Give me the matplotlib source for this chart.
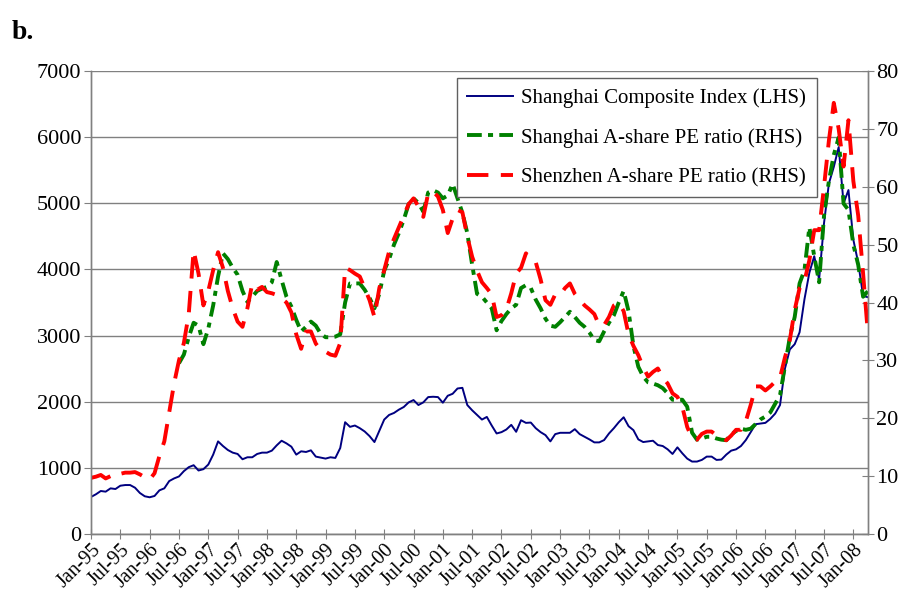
import numpy as np
import matplotlib
matplotlib.use("Agg")
import matplotlib.pyplot as plt

# ── Datos mensuales: Jan-95 ... Apr-08 (índice de mes 0..159) ────────────────
sci = [
    560, 600, 650, 640, 690, 680, 730, 740, 740, 700,
    620, 570, 555, 575, 660, 690, 800, 840, 870, 950,
    1010, 1040, 960, 980, 1050, 1200, 1400, 1330, 1270, 1230,
    1210, 1130, 1160, 1160, 1210, 1230, 1230, 1260, 1340, 1410,
    1370, 1320, 1200, 1250, 1240, 1265, 1170, 1155, 1140, 1160,
    1150, 1300, 1690, 1620, 1640, 1600, 1550, 1480, 1390, 1560,
    1730, 1800, 1830, 1880, 1920, 1990, 2025, 1950, 1990, 2070,
    2075, 2070, 1985, 2090, 2120, 2200, 2210, 1950, 1870, 1800,
    1730, 1770, 1640, 1520, 1540, 1580, 1650, 1545, 1720, 1680,
    1685, 1600, 1540, 1495, 1400, 1510, 1530, 1530, 1530, 1585,
    1510, 1470, 1430, 1385, 1385, 1420, 1520, 1600, 1690, 1765,
    1630, 1570, 1430, 1390, 1400, 1410, 1345, 1330, 1280, 1210,
    1310, 1220, 1140, 1095, 1095, 1120, 1170, 1170, 1120, 1125,
    1200, 1260, 1280, 1330, 1420, 1540, 1660, 1670, 1680, 1740,
    1820, 1950, 2500, 2790, 2870, 3050, 3550, 3950, 4200, 3850,
    4700, 5300, 5550, 5850, 5000, 5200, 4450, 4100, 3600, 3580,
]

nan = np.nan
sh_pe = [nan] * 18 + [
    29.5, 31.0, 34.0, 36.5, 36.0, 32.8, 35.5, 39.5, 44.5, 48.5,
    47.5, 46.0, 44.8, 42.0, 40.1, 41.0, 42.0, 42.4, 42.7, 43.5,
    47.0, 43.9, 41.0, 39.3, 37.0, 35.0, 35.8, 36.7, 36.0, 34.6,
    34.0, 34.0, 34.1, 34.5, 40.0, 43.3, 43.3, 43.3, 42.2, 40.8,
    39.0, 41.5, 45.5, 47.5, 50.0, 52.0, 54.3, 57.0, 58.0, 57.2,
    55.7, 59.0, 59.4, 59.0, 58.0, 58.5, 60.5, 58.0, 55.5, 52.0,
    46.5, 41.5, 41.0, 40.0, 39.0, 35.2, 36.8, 38.0, 39.0, 39.6,
    42.5, 43.0, 42.5, 40.5, 39.0, 37.2, 36.0, 35.8, 36.6, 37.5,
    38.4, 37.5, 36.5, 35.8, 34.8, 33.5, 33.3, 35.0, 36.5, 37.8,
    40.0, 42.0, 38.5, 32.5, 28.9, 27.2, 26.2, 26.0, 25.7, 25.2,
    24.3, 23.2, 23.2, 23.2, 22.0, 17.5, 16.3, 16.5, 16.8, 16.8,
    16.5, 16.3, 16.2, 17.2, 17.8, 18.2, 18.0, 18.2, 19.0, 19.8,
    20.3, 21.0, 22.5, 24.0, 29.0, 34.0, 37.5, 43.3, 45.6, 53.0,
    48.0, 43.5, 55.0, 61.0, 65.5, 68.5, 57.1, 56.0, 50.0, 46.5,
    41.0, 42.0,
]

sz_pe = [
    9.7, 9.9, 10.2, 9.6, 10.0, 9.8, 10.4, 10.6, 10.6, 10.7,
    10.3, 9.8, 9.4, 10.5, 13.5, 16.0, 21.0, 26.0, 30.0, 33.0,
    38.0, 49.0, 45.0, 39.5, 42.0, 45.6, 48.7, 46.0, 42.0, 39.0,
    36.7, 35.8, 39.0, 43.3, 42.2, 42.7, 41.8, 41.6, 41.3, 40.7,
    40.0, 38.3, 34.5, 32.0, 35.0, 35.0, 32.9, 31.8, 31.5, 31.0,
    30.8, 33.0, 46.0, 45.6, 45.0, 44.5, 42.5, 40.4, 37.5, 42.5,
    45.6, 48.8, 51.0, 53.0, 55.0, 57.0, 58.0, 56.6, 54.8, 58.9,
    59.2, 58.3, 56.0, 52.0, 54.5, 56.0, 55.6, 51.4, 47.9, 45.5,
    43.5, 42.5, 41.4, 37.5, 37.8, 38.8, 41.6, 45.0, 46.0, 48.5,
    47.6, 47.0, 44.0, 40.4, 39.6, 41.4, 41.3, 42.5, 43.3, 41.5,
    40.5, 39.5, 38.8, 38.0, 36.0, 36.1, 37.5, 39.5, 40.0, 38.5,
    34.5, 32.5, 30.9, 28.8, 27.2, 28.0, 28.6, 27.0, 26.0, 24.3,
    23.7, 22.0, 18.5, 16.5, 16.3, 17.3, 17.7, 17.7, 17.0, 16.6,
    16.2, 17.0, 18.0, 18.0, 19.5, 22.3, 25.5, 25.5, 24.8, 25.5,
    26.3, 27.0, 30.5, 33.5, 38.7, 42.5, 43.7, 47.3, 52.5, 52.5,
    60.0, 68.0, 74.5, 70.0, 63.5, 71.5, 61.0, 55.0, 45.0, 34.4,
]

tick_labels = [f"{m}-{y:02d}" for y in list(range(95, 100)) + list(range(0, 9))
               for m in ("Jan", "Jul")][:27]
left_ticks = [0, 1000, 2000, 3000, 4000, 5000, 6000, 7000]
right_ticks = [0, 10, 20, 30, 40, 50, 60, 70, 80]

plt.rcParams["font.family"] = ["Liberation Serif", "DejaVu Serif"]

# ── Figura ────────────────────────────────────────────────────────────────────
fig = plt.figure(figsize=(9.02, 5.92), dpi=100)
ax = fig.add_axes([0.1009, 0.098, 0.8614, 0.782])
ax2 = ax.twinx()

months = np.arange(len(sci))
ln1, = ax.plot(months, sci, color="#000080", lw=1.4, label="Shanghai Composite Index (LHS)")
ln2, = ax2.plot(np.arange(len(sh_pe)), sh_pe, color="#008000", lw=2.8,
                dashes=(3.8, 1.6, 1.3, 1.6), label="Shanghai A-share PE ratio (RHS)")
ln3, = ax2.plot(np.arange(len(sz_pe)), sz_pe, color="#ff0000", lw=2.8,
                dashes=(5.5, 3.2), label="Shenzhen A-share PE ratio (RHS)")

ax.set_xlim(0, 159)
ax.set_ylim(0, 7000)
ax2.set_ylim(0, 80)
ax.set_yticks(left_ticks)
ax2.set_yticks(right_ticks)
ax.set_xticks(np.arange(0, 157, 6))
ax.set_xticklabels(tick_labels, rotation=45, ha="right", rotation_mode="anchor")

ax.yaxis.grid(True, color="#808080", lw=1.0)
ax.set_axisbelow(True)

for a in (ax, ax2):
    for side in ("left", "right", "bottom"):
        a.spines[side].set_color("#808080")
        a.spines[side].set_linewidth(1.0)
    a.spines["top"].set_visible(False)
    a.tick_params(labelsize=16, color="#808080", length=5)
ax.tick_params(axis="x", direction="inout", length=7, pad=1, labelsize=14.5)
ax.tick_params(axis="y", direction="out", pad=2)
ax2.tick_params(axis="y", direction="inout", length=8, pad=2)

leg = ax2.legend(handles=[ln1, ln2, ln3], loc="upper right",
                 bbox_to_anchor=(0.934, 0.985), borderaxespad=0, fontsize=15,
                 frameon=True, fancybox=False, edgecolor="#606060", framealpha=1,
                 handlelength=2.2, handletextpad=0.4, labelspacing=0.95,
                 borderpad=0.5)
leg.get_frame().set_linewidth(1.0)

fig.text(0.013, 0.945, "b.", fontsize=20, fontweight="bold", ha="left", va="center")

fig.savefig("out.png", dpi=100)
